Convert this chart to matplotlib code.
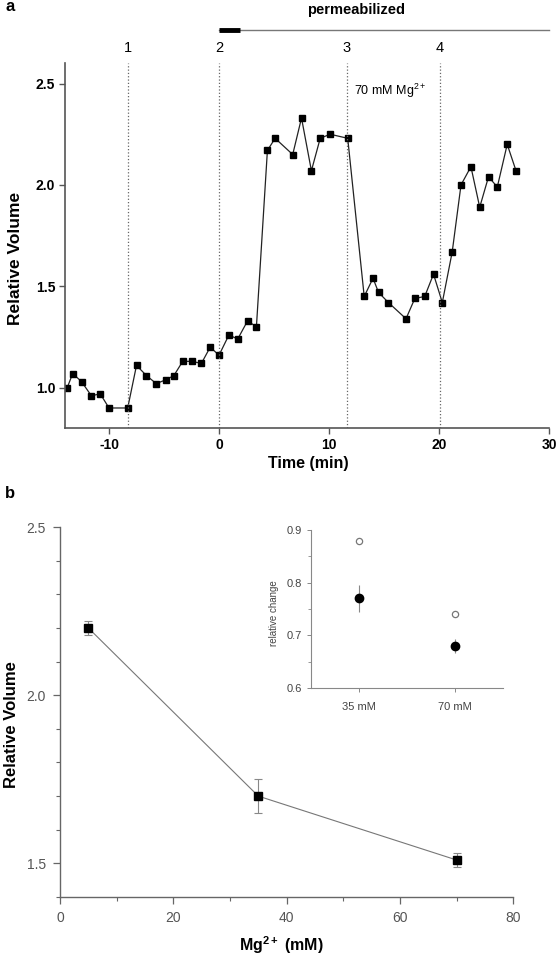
import matplotlib.pyplot as plt
from matplotlib.ticker import MultipleLocator

plt.rcParams['font.family'] = ['Liberation Sans', 'DejaVu Sans']
plt.rcParams['mathtext.fontset'] = 'custom'
plt.rcParams['mathtext.rm'] = 'Liberation Sans'
plt.rcParams['mathtext.bf'] = 'Liberation Sans:bold'
plt.rcParams['axes.unicode_minus'] = False

# panel a: volume time course
time_min = [-13.8, -13.3, -12.5, -11.6, -10.8, -10.0, -8.3, -7.5, -6.6, -5.7,
            -4.8, -4.1, -3.3, -2.5, -1.6, -0.8, 0.0, 0.9, 1.7, 2.6,
            3.4, 4.4, 5.1, 6.7, 7.5, 8.4, 9.2, 10.1, 11.7, 13.2,
            14.0, 14.5, 15.4, 17.0, 17.8, 18.7, 19.5, 20.3, 21.2, 22.0,
            22.9, 23.7, 24.5, 25.3, 26.2, 27.0]
rel_volume = [1.00, 1.07, 1.03, 0.96, 0.97, 0.90, 0.90, 1.11, 1.06, 1.02,
              1.04, 1.06, 1.13, 1.13, 1.12, 1.20, 1.16, 1.26, 1.24, 1.33,
              1.30, 2.17, 2.23, 2.15, 2.33, 2.07, 2.23, 2.25, 2.23, 1.45,
              1.54, 1.47, 1.42, 1.34, 1.44, 1.45, 1.56, 1.42, 1.67, 2.00,
              2.09, 1.89, 2.04, 1.99, 2.20, 2.07]
event_times = [-8.3, 0.0, 11.6, 20.1]
event_labels = ['1', '2', '3', '4']

# panel b: volume vs Mg2+
mg_mM = [5, 35, 70]
mg_volume = [2.20, 1.70, 1.51]
mg_err = [0.02, 0.05, 0.02]

# inset
inset_labels = ['35 mM', '70 mM']
inset_open = [0.88, 0.74]
inset_filled = [0.77, 0.68]
inset_err = [0.025, 0.013]

fig = plt.figure(figsize=(5.58, 9.6), dpi=100)

# ---- panel a
ax = fig.add_axes([0.1165, 0.5539, 0.8674, 0.3802])
ax.plot(time_min, rel_volume, '-', color='#222222', lw=0.9,
        marker='s', ms=5, mfc='black', mec='black')
for t in event_times:
    ax.axvline(t, color='#666666', ls=':', lw=0.9)
ax.set_xlim(-14, 30)
ax.set_ylim(0.8, 2.6)
ax.set_xticks([-10, 0, 10, 20, 30])
ax.set_yticks([1.0, 1.5, 2.0, 2.5])
ax.yaxis.set_major_formatter(plt.FormatStrFormatter('%.1f'))
for s in ['top', 'right']:
    ax.spines[s].set_visible(False)
for s in ['left', 'bottom']:
    ax.spines[s].set_color('#555555')
    ax.spines[s].set_linewidth(1.2)
ax.tick_params(direction='out', length=4, width=1, color='#555555',
               labelsize=10, pad=3)
for lab in ax.get_xticklabels() + ax.get_yticklabels():
    lab.set_fontweight('bold')

for t, lab in zip(event_times, event_labels):
    ax.text(t, 2.675, lab, ha='center', va='center', fontsize=10.5, clip_on=False)
ax.plot([0, 30], [2.762, 2.762], color='#777777', lw=1.0, clip_on=False)
ax.plot([0, 1.9], [2.762, 2.762], color='black', lw=3.5, clip_on=False,
        solid_capstyle='butt')
ax.text(12.5, 2.865, 'permeabilized', ha='center', va='center', fontsize=10.5,
        fontweight='bold', clip_on=False)
ax.text(12.3, 2.465, r'70 mM Mg$^{2+}$', ha='left', va='center', fontsize=9)

fig.text(0.027, 0.731, 'Relative Volume', rotation=90, ha='center', va='center',
         fontsize=12.5, fontweight='bold')
fig.text(0.552, 0.5167, 'Time (min)', ha='center', va='center',
         fontsize=11.5, fontweight='bold')
fig.text(0.009, 0.993, 'a', ha='left', va='center', fontsize=12, fontweight='bold')
fig.text(0.009, 0.486, 'b', ha='left', va='center', fontsize=12, fontweight='bold')

# ---- panel b
bx = fig.add_axes([0.1075, 0.0656, 0.8124, 0.3854])
bx.plot(mg_mM, mg_volume, '-', color='#777777', lw=0.8)
bx.errorbar(mg_mM, mg_volume, yerr=mg_err, fmt='s', ms=6, mfc='black',
            mec='black', ecolor='#888888', elinewidth=0.8, capsize=3,
            capthick=0.8)
bx.set_xlim(0, 80)
bx.set_ylim(1.4, 2.5)
bx.set_xticks([0, 20, 40, 60, 80])
bx.set_yticks([1.5, 2.0, 2.5])
bx.yaxis.set_major_formatter(plt.FormatStrFormatter('%.1f'))
bx.xaxis.set_minor_locator(MultipleLocator(10))
bx.yaxis.set_minor_locator(MultipleLocator(0.1))
for s in ['top', 'right']:
    bx.spines[s].set_visible(False)
for s in ['left', 'bottom']:
    bx.spines[s].set_color('#666666')
    bx.spines[s].set_linewidth(1.0)
bx.tick_params(which='both', direction='out', color='#666666', labelsize=10,
               labelcolor='#555555', pad=5)
bx.tick_params(which='major', length=5, width=0.9)
bx.tick_params(which='minor', length=3, width=0.8)

fig.text(0.020, 0.245, 'Relative Volume', rotation=90, ha='center', va='center',
         fontsize=12, fontweight='bold')
fig.text(0.505, 0.0156, r'Mg$^{\mathbf{2+}}$ (mM)', ha='center', va='center',
         fontsize=11.5, fontweight='bold')

# ---- inset
ix = fig.add_axes([0.5568, 0.2833, 0.344, 0.1646])
pos = [1, 2]
ix.plot(pos, inset_open, 'o', ms=4.5, mfc='white', mec='#777777', mew=0.9)
ix.errorbar(pos, inset_filled, yerr=inset_err, fmt='o', ms=6, mfc='black',
            mec='black', ecolor='#888888', elinewidth=0.8, capsize=0)
ix.set_xlim(0.5, 2.5)
ix.set_ylim(0.6, 0.9)
ix.set_xticks(pos)
ix.set_xticklabels(inset_labels)
ix.set_yticks([0.6, 0.7, 0.8, 0.9])
ix.yaxis.set_major_formatter(plt.FormatStrFormatter('%.1f'))
ix.yaxis.set_minor_locator(MultipleLocator(0.05))
for s in ['top', 'right']:
    ix.spines[s].set_visible(False)
for s in ['left', 'bottom']:
    ix.spines[s].set_color('#888888')
    ix.spines[s].set_linewidth(0.8)
ix.tick_params(which='both', direction='out', color='#888888', labelsize=8,
               labelcolor='#444444')
ix.tick_params(axis='x', pad=7)
ix.tick_params(axis='y', pad=3)
ix.tick_params(which='major', length=3, width=0.7)
ix.tick_params(which='minor', length=2, width=0.6)
fig.text(0.491, 0.3615, 'relative change', rotation=90, ha='center', va='center',
         fontsize=7, color='#444444')

fig.savefig('out.png', dpi=100)
